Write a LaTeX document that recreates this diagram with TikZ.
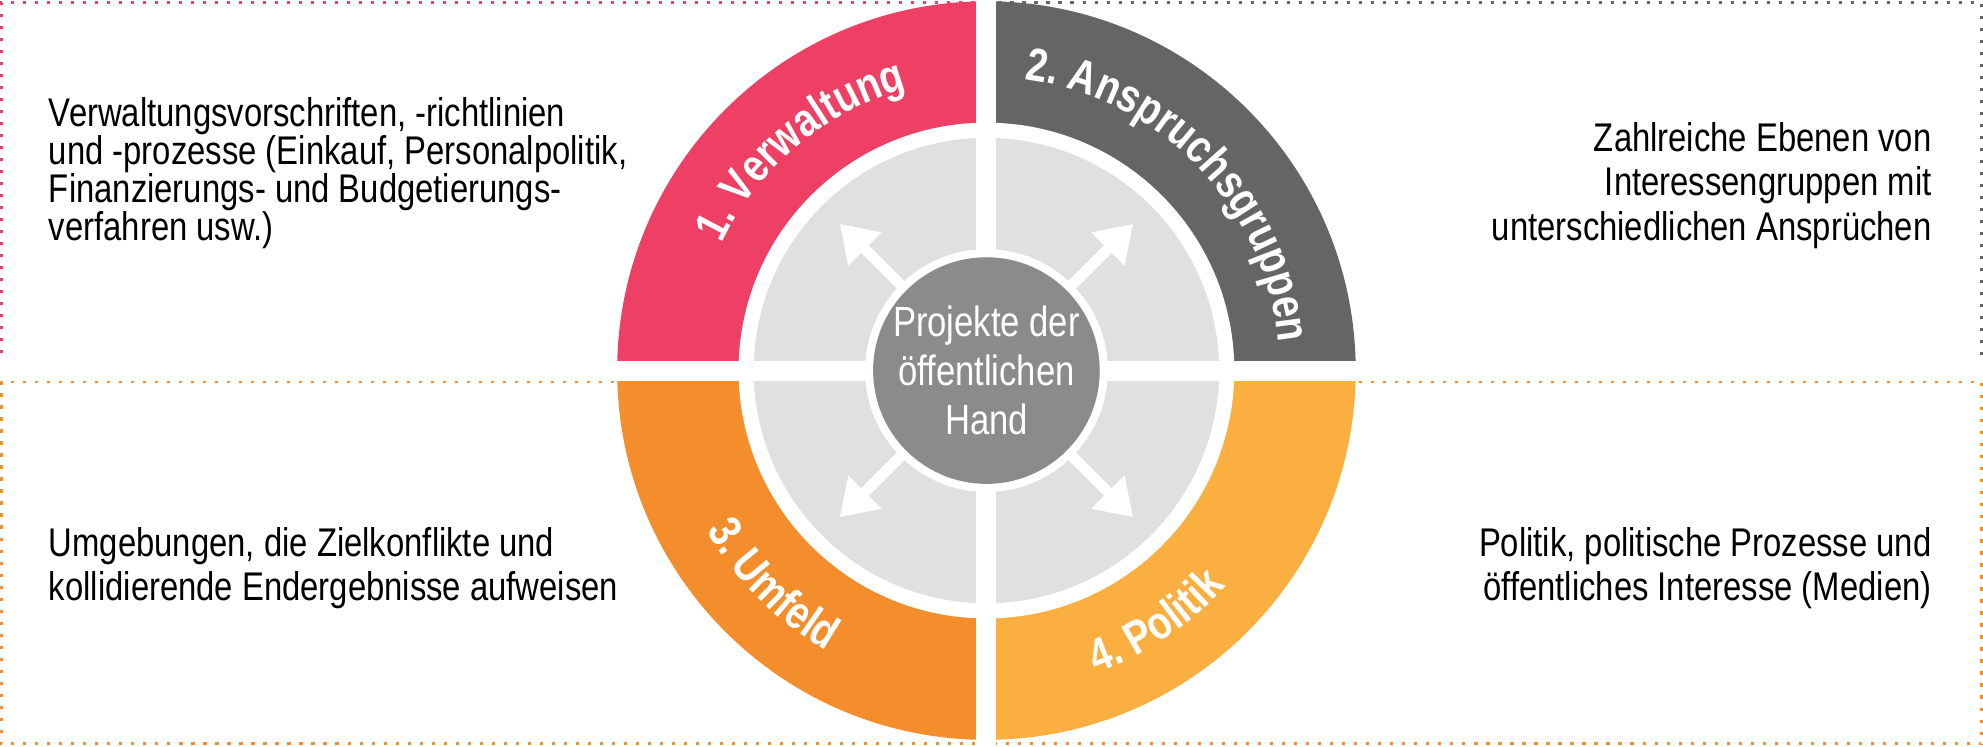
\documentclass[tikz,border=0pt]{standalone}
\usepackage{fontspec}
\setmainfont{Liberation Sans}[FakeStretch=0.82]
\usetikzlibrary{arrows.meta,decorations.text}

\definecolor{vpink}{HTML}{EE4065}
\definecolor{vgrey}{HTML}{646567}
\definecolor{vorange}{HTML}{F48E2C}
\definecolor{vyellow}{HTML}{FAAF40}
\definecolor{vlight}{HTML}{DFE0E2}
\definecolor{vmid}{HTML}{8A8B8D}

\tikzset{
  dotbox/.style={dotted,line width=0.7pt},
  sidetext/.style={font=\fontsize{9}{10}\selectfont,inner sep=0pt},
  arclabel/.style={decorate,decoration={text along path,text align=center,
      text color=white,text={#1}}},
  outarrow/.style={white,line width=2.4pt,-{Triangle[width=10pt,length=8pt]}}
}

\begin{document}
\begin{tikzpicture}[x=0.01cm,y=0.01cm]
\useasboundingbox (0,0) rectangle (1568,590);

% Define coordinates
\coordinate (mid) at (780,297);

% dotted frames
\draw[dotbox,vpink] (780,588) -- (1,588) -- (1,303) -- (780,303);
\draw[dotbox,vgrey] (780,588) -- (1567,588) -- (1567,303) -- (780,303);
\draw[dotbox,vorange] (780,288) -- (1,288) -- (1,2) -- (780,2);
\draw[dotbox,vorange] (780,288) -- (1567,288) -- (1567,2) -- (780,2);

% coloured quadrants
\fill[vpink] (mid) -- ++(180:292) arc[start angle=180,end angle=90,radius=292] -- cycle;
\fill[vgrey] (mid) -- ++(90:292) arc[start angle=90,end angle=0,radius=292] -- cycle;
\fill[vorange] (mid) -- ++(180:292) arc[start angle=180,end angle=270,radius=292] -- cycle;
\fill[vyellow] (mid) -- ++(270:292) arc[start angle=270,end angle=360,radius=292] -- cycle;

% inner rings
\fill[white] (mid) circle[radius=196];
\fill[vlight] (mid) circle[radius=184];
\draw[white,line width=4.5pt] ([xshift=-300]mid) -- ([xshift=300]mid);
\draw[white,line width=4.5pt] ([yshift=-300]mid) -- ([yshift=300]mid);
\fill[white] (mid) circle[radius=96];
\node[circle,fill=vmid,minimum size=1.72cm,inner sep=0pt,align=center,
      text=white,font=\fontsize{9.5}{11}\selectfont] (core) at (mid)
      {Projekte der\\öffentlichen\\Hand};

% arrows
\foreach \a in {45,135,225,315}
  \draw[outarrow] (mid) ++(\a:96) -- ++(\a:68);

% curved labels
\path[arclabel={|\fontsize{10.5}{12}\bfseries|1. Verwaltung}]
  (mid) ++(160:232) arc[start angle=160,end angle=100,radius=232];
\path[arclabel={|\fontsize{10.5}{12}\bfseries|2. Anspruchsgruppen}]
  (mid) ++(85:232) arc[start angle=85,end angle=3,radius=232];
\path[arclabel={|\fontsize{10.5}{12}\bfseries|3. Umfeld}]
  (mid) ++(200:255) arc[start angle=200,end angle=250,radius=255];
\path[arclabel={|\fontsize{10.5}{12}\bfseries|4. Politik}]
  (mid) ++(278:255) arc[start angle=278,end angle=330,radius=255];

% side texts
\node[sidetext,anchor=north west,align=left,font=\fontsize{9}{8.6}\selectfont] (admin) at (38,514)
  {Verwaltungsvorschriften, -richtlinien\\und -prozesse (Einkauf, Personalpolitik,\\Finanzierungs- und Budgetierungs-\\verfahren usw.)};
\node[sidetext,anchor=north east,align=right] (claims) at (1528,494)
  {Zahlreiche Ebenen von\\Interessengruppen mit\\unterschiedlichen Ansprüchen};
\node[sidetext,anchor=north east,align=right] (pol) at (1528,174)
  {Politik, politische Prozesse und\\öffentliches Interesse (Medien)};
\node[sidetext,anchor=north west,align=left] (env) at (38,174)
  {Umgebungen, die Zielkonflikte und\\kollidierende Endergebnisse aufweisen};
\end{tikzpicture}
\end{document}
